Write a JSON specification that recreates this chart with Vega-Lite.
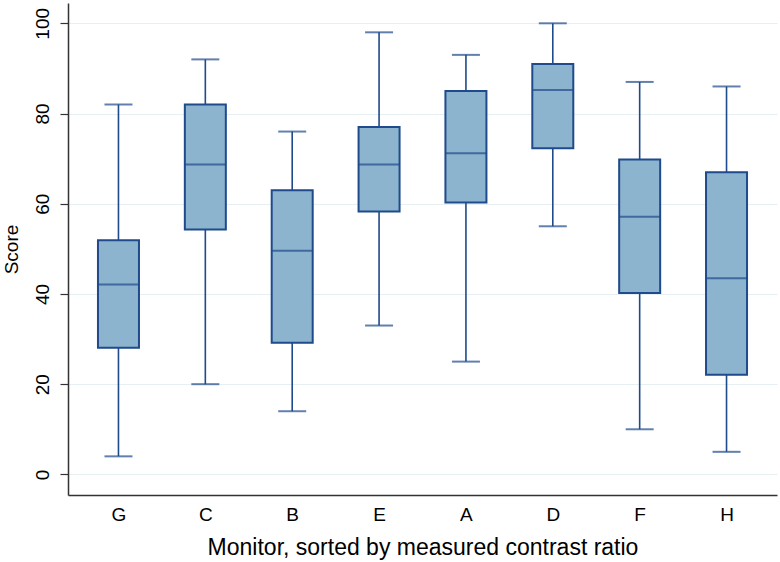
{
  "$schema": "https://vega.github.io/schema/vega-lite/v6.json",
  "width": 709,
  "height": 492,
  "autosize": {"type": "none"},
  "padding": {"left": 68, "top": 3, "right": 3, "bottom": 67},
  "background": "white",
  "config": {
    "view": {"stroke": null},
    "font": "Liberation Sans"
  },
  "data": {
    "values": [
      {"monitor": "G", "min": 4, "q1": 28.1, "median": 42.1, "q3": 51.9, "max": 82},
      {"monitor": "C", "min": 20, "q1": 54.3, "median": 68.7, "q3": 82, "max": 92},
      {"monitor": "B", "min": 14, "q1": 29.2, "median": 49.6, "q3": 63, "max": 76},
      {"monitor": "E", "min": 33, "q1": 58.3, "median": 68.7, "q3": 77, "max": 98},
      {"monitor": "A", "min": 25, "q1": 60.3, "median": 71.2, "q3": 85, "max": 93},
      {"monitor": "D", "min": 55, "q1": 72.3, "median": 85.2, "q3": 91, "max": 100},
      {"monitor": "F", "min": 10, "q1": 40.2, "median": 57.1, "q3": 69.8, "max": 87},
      {"monitor": "H", "min": 5, "q1": 22.1, "median": 43.5, "q3": 67, "max": 86}
    ]
  },
  "encoding": {
    "x": {
      "field": "monitor",
      "type": "nominal",
      "sort": null,
      "scale": {"type": "point", "padding": 0.581},
      "axis": {
        "title": "Monitor, sorted by measured contrast ratio",
        "titleFont": "Liberation Sans",
        "titleFontSize": 23,
        "titleFontWeight": "normal",
        "titleColor": "#000000",
        "titlePadding": 12,
        "labelAngle": 0,
        "labelFontSize": 19,
        "labelColor": "#000000",
        "labelPadding": 10,
        "ticks": false,
        "grid": false,
        "domainColor": "#333333",
        "domainWidth": 1.5
      }
    }
  },
  "layer": [
    {
      "mark": {"type": "rule", "color": "#1F4A8C", "strokeWidth": 1.6},
      "encoding": {
        "y": {
          "field": "min",
          "type": "quantitative",
          "scale": {"domain": [-4.57, 104.5], "nice": false, "zero": false},
          "axis": {
            "title": "Score",
            "titleFontSize": 19,
            "titleFontWeight": "normal",
            "titleColor": "#000000",
            "titlePadding": 12,
            "values": [0, 20, 40, 60, 80, 100],
            "labelAngle": 270,
            "labelAlign": "center",
            "labelBaseline": "bottom",
            "labelFontSize": 19,
            "labelColor": "#000000",
            "labelPadding": 8,
            "tickSize": 8,
            "tickColor": "#333333",
            "tickWidth": 1.2,
            "domainColor": "#333333",
            "domainWidth": 1.5,
            "grid": true,
            "gridColor": "#E6F0F2",
            "gridWidth": 1.2
          }
        },
        "y2": {"field": "max"}
      }
    },
    {
      "mark": {"type": "tick", "color": "#1F4A8C", "size": 28, "thickness": 2},
      "encoding": {"y": {"field": "min", "type": "quantitative"}}
    },
    {
      "mark": {"type": "tick", "color": "#1F4A8C", "size": 28, "thickness": 2},
      "encoding": {"y": {"field": "max", "type": "quantitative"}}
    },
    {
      "mark": {"type": "bar", "size": 41, "fill": "#8CB4CE", "stroke": "#1F4A8C", "strokeWidth": 2},
      "encoding": {
        "y": {"field": "q1", "type": "quantitative"},
        "y2": {"field": "q3"}
      }
    },
    {
      "mark": {"type": "tick", "color": "#1F4A8C", "size": 41, "thickness": 2},
      "encoding": {"y": {"field": "median", "type": "quantitative"}}
    }
  ]
}
